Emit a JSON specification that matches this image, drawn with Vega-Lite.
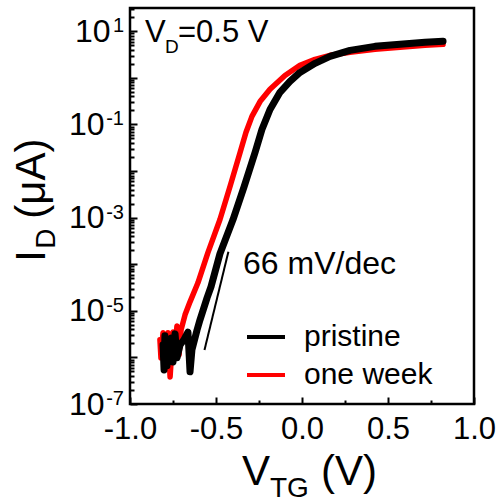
{
  "$schema": "https://vega.github.io/schema/vega-lite/v6.json",
  "width": 344,
  "height": 396,
  "autosize": "none",
  "padding": {"left": 130, "top": 8, "right": 25, "bottom": 100},
  "background": "white",
  "config": {
    "view": {"stroke": "black", "strokeWidth": 2.5},
    "font": "Liberation Sans",
    "text": {"font": "Liberation Sans", "color": "black", "align": "left", "baseline": "alphabetic"},
    "axis": {
      "domain": false,
      "grid": false,
      "title": null,
      "tickColor": "black",
      "tickWidth": 2,
      "labelColor": "black",
      "labelFont": "Liberation Sans",
      "labelFontSize": 31,
      "labelOverlap": false,
      "labelFlush": false,
      "labelBound": false
    }
  },
  "datasets": {
    "curves": [
      {"sample": "pristine", "V": -0.808, "I": 1.86e-6},
      {"sample": "pristine", "V": -0.802, "I": 5.4e-7},
      {"sample": "pristine", "V": -0.797, "I": 2.9e-6},
      {"sample": "pristine", "V": -0.785, "I": 6.6e-7},
      {"sample": "pristine", "V": -0.779, "I": 2.15e-6},
      {"sample": "pristine", "V": -0.762, "I": 2.6e-6},
      {"sample": "pristine", "V": -0.750, "I": 8.0e-7},
      {"sample": "pristine", "V": -0.738, "I": 3.2e-6},
      {"sample": "pristine", "V": -0.727, "I": 9.8e-7},
      {"sample": "pristine", "V": -0.709, "I": 1.86e-6},
      {"sample": "pristine", "V": -0.686, "I": 2.4e-6},
      {"sample": "pristine", "V": -0.663, "I": 3.5e-6},
      {"sample": "pristine", "V": -0.651, "I": 4.9e-7},
      {"sample": "pristine", "V": -0.640, "I": 1.45e-6},
      {"sample": "pristine", "V": -0.610, "I": 3.9e-6},
      {"sample": "pristine", "V": -0.593, "I": 6.4e-6},
      {"sample": "pristine", "V": -0.552, "I": 1.9e-5},
      {"sample": "pristine", "V": -0.529, "I": 3.28e-5},
      {"sample": "pristine", "V": -0.477, "I": 1.68e-4},
      {"sample": "pristine", "V": -0.401, "I": 9.1e-4},
      {"sample": "pristine", "V": -0.337, "I": 4.6e-3},
      {"sample": "pristine", "V": -0.273, "I": 0.025},
      {"sample": "pristine", "V": -0.233, "I": 0.078},
      {"sample": "pristine", "V": -0.186, "I": 0.21},
      {"sample": "pristine", "V": -0.128, "I": 0.49},
      {"sample": "pristine", "V": -0.070, "I": 0.84},
      {"sample": "pristine", "V": -0.012, "I": 1.31},
      {"sample": "pristine", "V": 0.076, "I": 2.05},
      {"sample": "pristine", "V": 0.163, "I": 2.9},
      {"sample": "pristine", "V": 0.279, "I": 3.9},
      {"sample": "pristine", "V": 0.424, "I": 4.75},
      {"sample": "pristine", "V": 0.570, "I": 5.25},
      {"sample": "pristine", "V": 0.715, "I": 5.8},
      {"sample": "pristine", "V": 0.820, "I": 6.1},
      {"sample": "one week", "V": -0.826, "I": 2.4e-6},
      {"sample": "one week", "V": -0.820, "I": 9.8e-7},
      {"sample": "one week", "V": -0.808, "I": 3.4e-6},
      {"sample": "one week", "V": -0.797, "I": 8.8e-7},
      {"sample": "one week", "V": -0.779, "I": 3.4e-6},
      {"sample": "one week", "V": -0.767, "I": 3.8e-7},
      {"sample": "one week", "V": -0.750, "I": 3.5e-6},
      {"sample": "one week", "V": -0.738, "I": 1.45e-6},
      {"sample": "one week", "V": -0.727, "I": 4.75e-6},
      {"sample": "one week", "V": -0.715, "I": 1.13e-6},
      {"sample": "one week", "V": -0.703, "I": 3.9e-6},
      {"sample": "one week", "V": -0.680, "I": 8.2e-6},
      {"sample": "one week", "V": -0.651, "I": 1.56e-5},
      {"sample": "one week", "V": -0.605, "I": 4.0e-5},
      {"sample": "one week", "V": -0.547, "I": 1.77e-4},
      {"sample": "one week", "V": -0.477, "I": 9.1e-4},
      {"sample": "one week", "V": -0.419, "I": 4.6e-3},
      {"sample": "one week", "V": -0.360, "I": 0.025},
      {"sample": "one week", "V": -0.326, "I": 0.067},
      {"sample": "one week", "V": -0.291, "I": 0.149},
      {"sample": "one week", "V": -0.244, "I": 0.31},
      {"sample": "one week", "V": -0.186, "I": 0.57},
      {"sample": "one week", "V": -0.099, "I": 1.13},
      {"sample": "one week", "V": -0.012, "I": 1.86},
      {"sample": "one week", "V": 0.076, "I": 2.5},
      {"sample": "one week", "V": 0.163, "I": 3.05},
      {"sample": "one week", "V": 0.279, "I": 3.53},
      {"sample": "one week", "V": 0.424, "I": 4.1},
      {"sample": "one week", "V": 0.570, "I": 4.53},
      {"sample": "one week", "V": 0.715, "I": 5.0},
      {"sample": "one week", "V": 0.820, "I": 5.25}
    ],
    "slope": [
      {"V": -0.567, "I": 1.45e-6},
      {"V": -0.428, "I": 1.86e-4}
    ],
    "decades": [
      {"I": 1e-7, "exp": "-7"},
      {"I": 1e-5, "exp": "-5"},
      {"I": 1e-3, "exp": "-3"},
      {"I": 1e-1, "exp": "-1"},
      {"I": 10, "exp": "1"}
    ],
    "one": [{}]
  },
  "layer": [
    {
      "data": {"name": "curves"},
      "transform": [{"filter": "datum.sample == 'one week'"}],
      "mark": {"type": "line", "strokeWidth": 5.5, "strokeJoin": "round", "strokeCap": "round"},
      "encoding": {
        "x": {
          "field": "V",
          "type": "quantitative",
          "scale": {"domain": [-1, 1], "nice": false, "zero": false},
          "axis": {
            "values": [-1, -0.75, -0.5, -0.25, 0, 0.25, 0.5, 0.75, 1],
            "labelExpr": "abs(datum.value * 2 - round(datum.value * 2)) < 1e-6 ? (datum.value < 0 ? '-' + format(-datum.value, '.1f') : format(datum.value, '.1f')) : ''",
            "tickSize": {"condition": {"test": "abs(datum.value * 2 - round(datum.value * 2)) < 1e-6", "value": -7}, "value": -4},
            "labelPadding": 17
          }
        },
        "y": {
          "field": "I",
          "type": "quantitative",
          "scale": {"type": "log", "domain": [1e-7, 31.62], "nice": false},
          "axis": {
            "values": [1e-7, 2e-7, 3e-7, 4e-7, 5e-7, 6e-7, 7e-7, 8e-7, 9e-7,
                       1e-6, 2e-6, 3e-6, 4e-6, 5e-6, 6e-6, 7e-6, 8e-6, 9e-6,
                       1e-5, 2e-5, 3e-5, 4e-5, 5e-5, 6e-5, 7e-5, 8e-5, 9e-5,
                       1e-4, 2e-4, 3e-4, 4e-4, 5e-4, 6e-4, 7e-4, 8e-4, 9e-4,
                       1e-3, 2e-3, 3e-3, 4e-3, 5e-3, 6e-3, 7e-3, 8e-3, 9e-3,
                       1e-2, 2e-2, 3e-2, 4e-2, 5e-2, 6e-2, 7e-2, 8e-2, 9e-2,
                       1e-1, 2e-1, 3e-1, 4e-1, 5e-1, 6e-1, 7e-1, 8e-1, 9e-1,
                       1, 2, 3, 4, 5, 6, 7, 8, 9, 10, 20, 30],
            "labelExpr": "datum.value == 1e-7 || datum.value == 1e-5 || datum.value == 1e-3 || datum.value == 1e-1 || datum.value == 10 ? '10' : ''",
            "tickSize": {"condition": {"test": "abs(log(datum.value) / LN10 - round(log(datum.value) / LN10)) < 1e-6", "value": -7}, "value": -4},
            "labelPadding": {"condition": {"test": "datum.value < 1", "value": 33}, "value": 27},
            "labelFontSize": 32
          }
        },
        "color": {
          "field": "sample",
          "type": "nominal",
          "scale": {"domain": ["pristine", "one week"], "range": ["#000000", "#ff0000"]},
          "legend": {
            "orient": "none",
            "legendX": 115,
            "legendY": 308,
            "title": null,
            "padding": 0,
            "symbolType": "stroke",
            "symbolSize": 1444,
            "symbolStrokeWidth": 4,
            "labelFont": "Liberation Sans",
            "labelFontSize": 30,
            "labelColor": "black",
            "labelOffset": 17,
            "rowPadding": 2
          }
        }
      }
    },
    {
      "data": {"name": "curves"},
      "transform": [{"filter": "datum.sample == 'pristine'"}],
      "mark": {"type": "line", "strokeWidth": 7, "strokeJoin": "round", "strokeCap": "round"},
      "encoding": {
        "x": {"field": "V", "type": "quantitative"},
        "y": {"field": "I", "type": "quantitative"},
        "color": {"field": "sample", "type": "nominal"}
      }
    },
    {
      "data": {"name": "slope"},
      "mark": {"type": "line", "color": "black", "strokeWidth": 2},
      "encoding": {
        "x": {"field": "V", "type": "quantitative"},
        "y": {"field": "I", "type": "quantitative"}
      }
    },
    {
      "data": {"name": "decades"},
      "mark": {"type": "text", "fontSize": 20, "align": "right", "dx": -6, "dy": 1},
      "encoding": {
        "x": {"datum": -1},
        "y": {"field": "I", "type": "quantitative"},
        "text": {"field": "exp"}
      }
    },
    {"data": {"name": "one"}, "mark": {"type": "text", "text": "V", "fontSize": 31},
     "encoding": {"x": {"datum": -0.913}, "y": {"datum": 5.79}}},
    {"data": {"name": "one"}, "mark": {"type": "text", "text": "D", "fontSize": 19, "dx": 20, "dy": 11},
     "encoding": {"x": {"datum": -0.913}, "y": {"datum": 5.79}}},
    {"data": {"name": "one"}, "mark": {"type": "text", "text": "=0.5 V", "fontSize": 31, "dx": 33},
     "encoding": {"x": {"datum": -0.913}, "y": {"datum": 5.79}}},
    {"data": {"name": "one"}, "mark": {"type": "text", "text": "66 mV/dec", "fontSize": 32},
     "encoding": {"x": {"datum": -0.343}, "y": {"datum": 6.25e-5}}},
    {"data": {"name": "one"}, "mark": {"type": "text", "text": "V", "fontSize": 42},
     "encoding": {"x": {"datum": -0.349}, "y": {"datum": 1.81e-9}}},
    {"data": {"name": "one"}, "mark": {"type": "text", "text": "TG", "fontSize": 28, "dx": 28, "dy": 12},
     "encoding": {"x": {"datum": -0.349}, "y": {"datum": 1.81e-9}}},
    {"data": {"name": "one"}, "mark": {"type": "text", "text": "(V)", "fontSize": 42, "dx": 79},
     "encoding": {"x": {"datum": -0.349}, "y": {"datum": 1.81e-9}}},
    {"data": {"name": "one"}, "mark": {"type": "text", "text": "I", "fontSize": 42, "angle": 270},
     "encoding": {"x": {"datum": -1.494}, "y": {"datum": 1.13e-4}}},
    {"data": {"name": "one"}, "mark": {"type": "text", "text": "D", "fontSize": 28, "angle": 270, "dx": 13, "dy": 10},
     "encoding": {"x": {"datum": -1.494}, "y": {"datum": 1.13e-4}}},
    {"data": {"name": "one"}, "mark": {"type": "text", "text": "(μA)", "fontSize": 42, "angle": 270, "dx": 43},
     "encoding": {"x": {"datum": -1.494}, "y": {"datum": 1.13e-4}}}
  ]
}
